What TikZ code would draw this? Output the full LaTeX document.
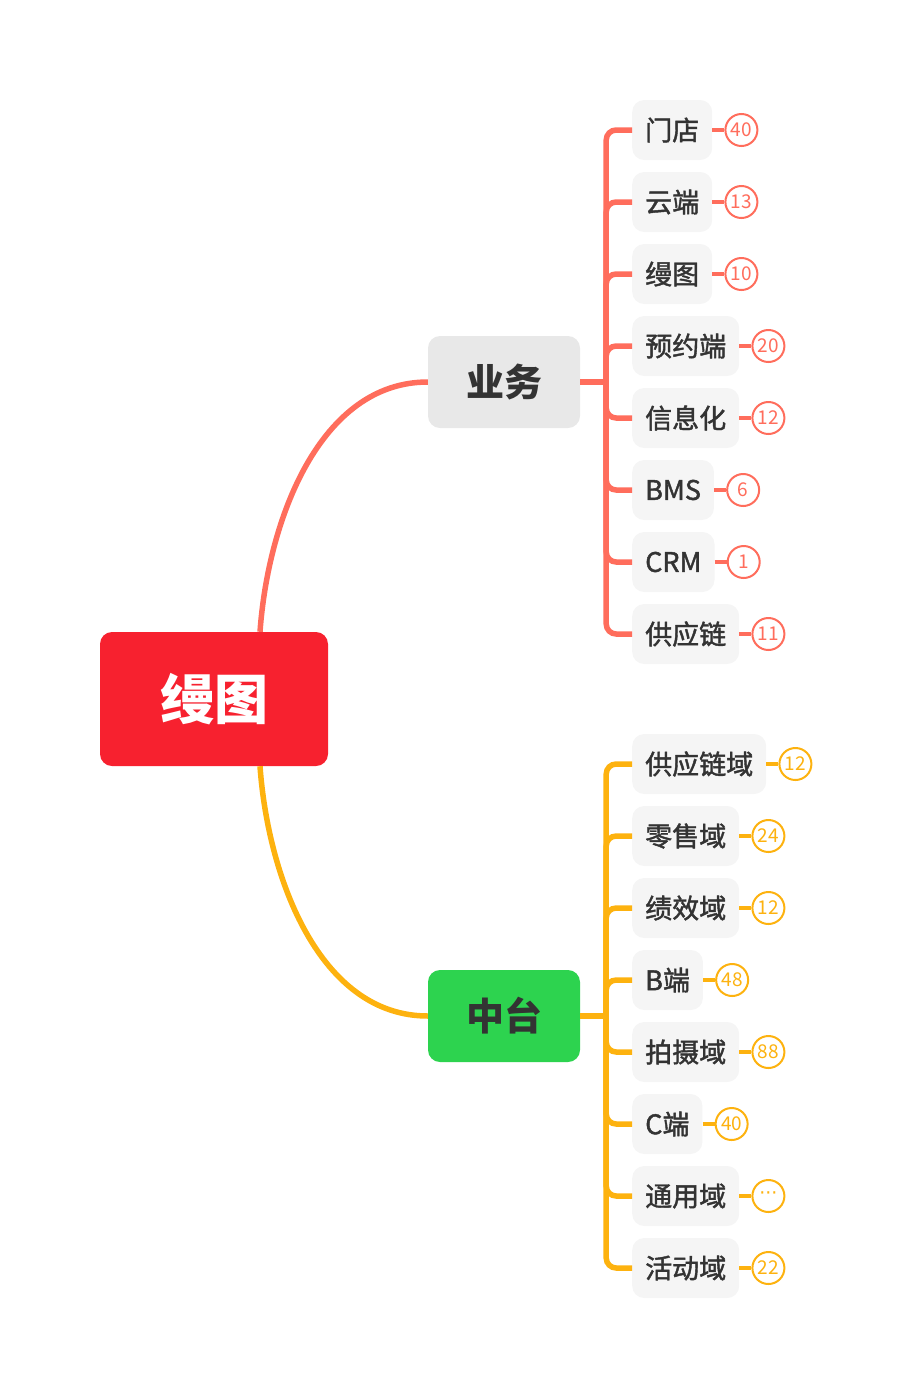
\documentclass[tikz,border=0pt]{standalone}
\usepackage{fontspec}
\setmainfont{Noto Sans CJK SC}
\newfontfamily\medio{Noto Sans CJK SC}[FakeBold=1.5]
\newfontfamily\puntos{DejaVu Sans}
\usetikzlibrary{positioning, calc}
\definecolor{rojoraiz}{HTML}{F7212F}
\definecolor{salmon}{HTML}{FF6D5C}
\definecolor{ambar}{HTML}{FDB20F}
\definecolor{verdeclaro}{HTML}{2DD34F}
\definecolor{grisoscuro}{HTML}{333333}
\colorlet{colRaiz}{rojoraiz}
\colorlet{colNegocio}{salmon}
\colorlet{colPlataforma}{ambar}
\colorlet{colCajaNegocio}{black!9}
\colorlet{colCajaPlataforma}{verdeclaro}
\colorlet{colHoja}{black!4}
\colorlet{colTexto}{grisoscuro}
\tikzset{
  cajaBase/.style={
    rounded corners=12pt, align=center, text=colTexto, inner sep=0pt
  },
  cajaRaiz/.style={cajaBase, fill=colRaiz, text=white,
    minimum width=228pt, minimum height=134pt,
    font=\fontsize{54}{54}\selectfont\bfseries},
  cajaRama/.style={cajaBase, minimum width=152pt, minimum height=92pt,
    font=\fontsize{38}{38}\selectfont\bfseries},
  cajaHoja/.style={cajaBase, fill=colHoja, minimum height=60pt,
    inner xsep=13pt, font=\fontsize{27}{27}\medio},
  globo/.style={circle, draw=#1, text=#1, fill=white, line width=2pt,
    minimum size=32pt, inner sep=0pt, font=\fontsize{19}{19}\selectfont},
  linea/.style={line width=5.5pt, draw=#1},
  lineaFina/.style={line width=4.5pt, draw=#1},
}
\begin{document}
\begin{tikzpicture}[x=1pt, y=-1pt]
  \useasboundingbox (0,0) rectangle (912,1398);
  \node[cajaRaiz] (raiz) at (214,699) {缦图};
  \node[cajaRama, fill=colCajaNegocio] (negocio) at (504,382) {业务};
  \node[cajaRama, fill=colCajaPlataforma] (plataforma) at (504,1016) {中台};
  \coordinate (raizArriba) at ([xshift=46pt]raiz.north);
  \coordinate (raizAbajo) at ([xshift=46pt]raiz.south);
  \draw[linea=colNegocio] (raizArriba) .. controls +(8,-112) and +(-108,0) .. (negocio.west);
  \draw[linea=colPlataforma] (raizAbajo) .. controls +(8,112) and +(-108,0) .. (plataforma.west);
  % rama superior
  \coordinate (jNeg) at ([xshift=26pt]negocio.east);
  \draw[linea=colNegocio] (negocio.east) -- (jNeg);
  \foreach \txt/\num [count=\i] in {门店/40, 云端/13, 缦图/10, 预约端/20,
      信息化/12, BMS/6, CRM/1, 供应链/11}{
    \node[cajaHoja, anchor=west] (neg\i) at (632,58+72*\i) {\txt};
    \node[globo=colNegocio, right=12pt of neg\i] (negN\i) {\num};
    \draw[linea=colNegocio, rounded corners=10pt] (jNeg) |- (neg\i.west);
    \draw[lineaFina=colNegocio] (neg\i.east) -- (negN\i.west);
  }
  % rama inferior
  \coordinate (jPla) at ([xshift=26pt]plataforma.east);
  \draw[linea=colPlataforma] (plataforma.east) -- (jPla);
  \foreach \txt/\num [count=\i] in {供应链域/12, 零售域/24, 绩效域/12, B端/48,
      拍摄域/88, C端/40, 通用域/{\puntos ···}, 活动域/22}{
    \node[cajaHoja, anchor=west] (pla\i) at (632,692+72*\i) {\txt};
    \node[globo=colPlataforma, right=12pt of pla\i] (plaN\i) {\num};
    \draw[linea=colPlataforma, rounded corners=10pt] (jPla) |- (pla\i.west);
    \draw[lineaFina=colPlataforma] (pla\i.east) -- (plaN\i.west);
  }
\end{tikzpicture}
\end{document}
